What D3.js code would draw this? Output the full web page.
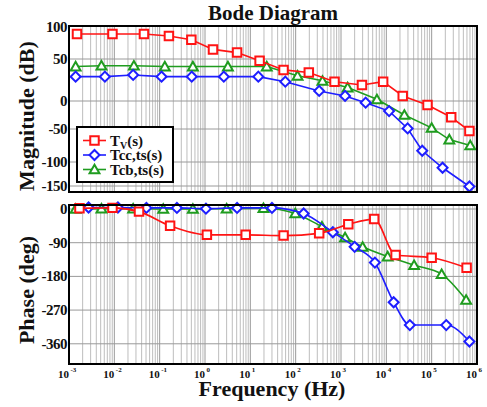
<!DOCTYPE html>
<html><head><meta charset="utf-8">
<script src="https://cdn.jsdelivr.net/npm/d3@7"></script>
<style>
html,body{margin:0;padding:0;background:#fff;}
svg text{font-family:"Liberation Serif","Times New Roman",serif;font-weight:bold;fill:#111;}
</style></head>
<body><svg id="c" width="487" height="407"></svg>
<script>
// ---------- data ----------
const magTicks = [100, 50, 0, -50, -100, -150];
const phaseTicks = [0, -90, -180, -270, -360];
const decades = [-3, -2, -1, 0, 1, 2, 3, 4, 5, 6];

const seriesNames = ["Tv(s)", "Tcc,ts(s)", "Tcb,ts(s)"];

// Tv(s)
const tvMagF = [1.5e-3, 9.1e-3, 4.5e-2, 0.16, 0.5, 1.5, 5.1, 16, 54, 195, 720, 2900, 8500, 2.3e4, 8.1e4, 2.7e5, 6.8e5];
const tvMag  = [89, 89, 89, 86, 80, 65, 60, 48, 37, 34, 23, 19, 23, 6, -7, -29, -53];
const tvPhF  = [1.7e-3, 9.1e-3, 3.5e-2, 0.17, 1.1, 7.9, 54, 330, 1450, 5400, 1.6e4, 1e5, 5.9e5];
const tvPh   = [2, 3, -7, -45, -69, -69, -71, -65, -41, -27, -123, -130, -157];

// Tcc,ts(s)
const tccMagF = [1.4e-3, 6.2e-3, 2.6e-2, 0.11, 0.51, 2.6, 15, 59, 330, 1230, 3500, 1.15e4, 2.95e4, 6.2e4, 1.74e5, 6.8e5];
const tccMag  = [29, 29, 31, 29, 29, 29, 29, 23, 12, 6, -3, -18, -49, -83, -112, -151];
const tccPhF  = [2.7e-3, 1.2e-2, 5.1e-2, 0.24, 1.05, 5.1, 30, 150, 660, 2000, 5600, 1.45e4, 3.3e4, 2.1e5, 6.8e5];
const tccPh   = [4, 4, 3, 3, 1, 3, 3, -12, -62, -101, -143, -249, -310, -310, -354];

// Tcb,ts(s)
const tcbMagF = [1.4e-3, 5.2e-3, 2.7e-2, 0.13, 0.54, 3.2, 23, 110, 390, 1400, 6200, 2.5e4, 1e5, 2.45e5, 7.1e5];
const tcbMag  = [41, 42, 42, 41, 41, 41, 41, 30, 24, 16, 2, -25, -48, -66, -75];
const tcbPhF  = [1.4e-3, 5.2e-3, 2.6e-2, 0.12, 0.54, 3.0, 19.5, 98, 380, 1230, 3000, 1.07e4, 4.1e4, 1.66e5, 5.75e5];
const tcbPh   = [0, 1, 1, 0, 0, 1, 2, -12, -47, -76, -101, -127, -150, -174, -243];

// ---------- layout ----------
const svg = d3.select("#c");
const L = 69, R = 477;
const top1 = 26, bot1 = 192, top2 = 205, bot2 = 364;

const x = d3.scaleLog().domain([1e-3, 1e6]).range([L, R]);
const yMag = d3.scaleLinear().domain([100, 50, 0, -50, -100, -150, -160])
  .range([27, 59, 101, 129, 162, 186, 191]);
const yPh = d3.scaleLinear().domain([10.7, -414]).range([top2, bot2]);

const colors = ["#ff1414", "#1e1eff", "#1f9c1f"];

function grid(yScale, ticks, t, b) {
  const g = svg.append("g");
  decades.slice(0, -1).forEach(d => {
    for (let k = 2; k <= 9; k++) {
      const xv = x(k * Math.pow(10, d));
      g.append("line").attr("x1", xv).attr("x2", xv).attr("y1", t).attr("y2", b)
        .attr("stroke", "#bdbdbd").attr("stroke-width", 1);
    }
  });
  decades.slice(1, -1).forEach(d => {
    const xv = x(Math.pow(10, d));
    g.append("line").attr("x1", xv).attr("x2", xv).attr("y1", t).attr("y2", b)
      .attr("stroke", "#9a9a9a").attr("stroke-width", 1);
  });
  ticks.forEach(v => {
    const yv = yScale(v);
    if (yv > t + 2 && yv < b - 2)
      g.append("line").attr("x1", L).attr("x2", R).attr("y1", yv).attr("y2", yv)
        .attr("stroke", "#9a9a9a").attr("stroke-width", 1);
  });
}
grid(yMag, magTicks, top1, bot1);
grid(yPh, phaseTicks, top2, bot2);

// y tick labels
magTicks.forEach(v => {
  svg.append("text").attr("x", 67).attr("y", yMag(v) + 5).attr("text-anchor", "end")
    .attr("font-size", 15).attr("letter-spacing", -0.5).text(v);
});
phaseTicks.forEach(v => {
  svg.append("text").attr("x", 67).attr("y", yPh(v) + 5).attr("text-anchor", "end")
    .attr("font-size", 15).attr("letter-spacing", -0.5).text(v);
});
// x tick labels (base + exponent)
decades.forEach(d => {
  const xv = x(Math.pow(10, d));
  svg.append("text").attr("x", xv).attr("y", 378).attr("text-anchor", "end")
    .attr("font-size", 11).text("10");
  svg.append("text").attr("x", xv + 1.5).attr("y", 372).attr("text-anchor", "start")
    .attr("font-size", 7).text(d);
});

// series drawing
function symbolPath(i) {
  if (i === 0) return d3.symbol().type(d3.symbolSquare).size(72)();
  if (i === 1) return d3.symbol().type(d3.symbolSquare).size(50)();
  return d3.symbol().type(d3.symbolTriangle).size(42)();
}
function drawSeries(fs, vs, yScale, i, curve) {
  const pts = fs.map((f, j) => [x(f), yScale(vs[j])]);
  svg.append("path").attr("d", d3.line().curve(curve)(pts))
    .attr("fill", "none").attr("stroke", colors[i]).attr("stroke-width", 1.6);
  pts.forEach(p => {
    svg.append("path").attr("d", symbolPath(i))
      .attr("transform", `translate(${p[0]},${p[1] + (i === 2 ? 1 : 0)})` + (i === 1 ? " rotate(45)" : ""))
      .attr("fill", "#fff").attr("stroke", colors[i]).attr("stroke-width", 2);
  });
}
drawSeries(tcbMagF, tcbMag, yMag, 2, d3.curveLinear);
drawSeries(tccMagF, tccMag, yMag, 1, d3.curveLinear);
drawSeries(tvMagF, tvMag, yMag, 0, d3.curveLinear);

drawSeries(tcbPhF, tcbPh, yPh, 2, d3.curveMonotoneX);
drawSeries(tccPhF, tccPh, yPh, 1, d3.curveMonotoneX);
drawSeries(tvPhF, tvPh, yPh, 0, d3.curveMonotoneX);

// frames
[[top1, bot1], [top2, bot2]].forEach(([t, b]) => {
  svg.append("rect").attr("x", L).attr("y", t).attr("width", R - L).attr("height", b - t)
    .attr("fill", "none").attr("stroke", "#000").attr("stroke-width", 2);
});

// legend
const lg = svg.append("g");
lg.append("rect").attr("x", 77).attr("y", 127).attr("width", 96).attr("height", 55)
  .attr("fill", "#fff").attr("stroke", "#000").attr("stroke-width", 2);
const legY = [140.5, 155, 169.5];
seriesNames.forEach((n, i) => {
  lg.append("line").attr("x1", 83).attr("x2", 106).attr("y1", legY[i]).attr("y2", legY[i])
    .attr("stroke", colors[i]).attr("stroke-width", 1.6);
  lg.append("path").attr("d", symbolPath(i))
    .attr("transform", `translate(94.5,${legY[i] + (i === 2 ? 1 : 0)})` + (i === 1 ? " rotate(45)" : ""))
    .attr("fill", "#fff").attr("stroke", colors[i]).attr("stroke-width", 2);
  const t = lg.append("text").attr("x", 110).attr("y", legY[i] + 5).attr("font-size", 15);
  if (i === 0) {
    t.append("tspan").text("T");
    t.append("tspan").attr("dy", 3).attr("font-size", 10).text("V");
    t.append("tspan").attr("dy", -3).text("(s)");
  } else {
    t.text(n);
  }
});

// titles
svg.append("text").attr("x", 273).attr("y", 20).attr("text-anchor", "middle")
  .attr("font-size", 21).text("Bode Diagram");
svg.append("text").attr("x", 272).attr("y", 396).attr("text-anchor", "middle")
  .attr("font-size", 22).text("Frequency (Hz)");
svg.append("text").attr("transform", "translate(34,116) rotate(-90)").attr("text-anchor", "middle")
  .attr("font-size", 22).text("Magnitude (dB)");
svg.append("text").attr("transform", "translate(34,290) rotate(-90)").attr("text-anchor", "middle")
  .attr("font-size", 22).text("Phase (deg)");
</script></body></html>
